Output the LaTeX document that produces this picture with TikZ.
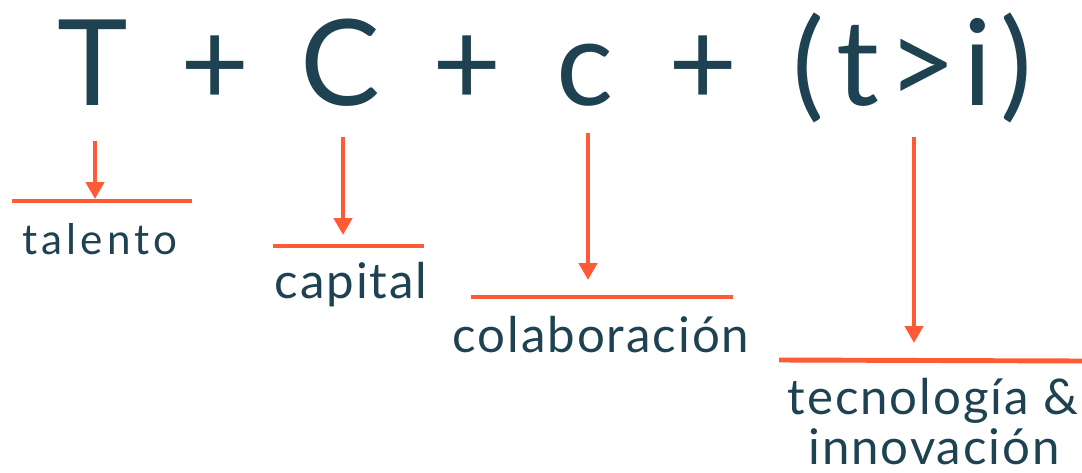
\documentclass[tikz,border=0pt]{standalone}
\usepackage{fontspec}
\setmainfont{Lato}
\usetikzlibrary{arrows.meta,calc}
\definecolor{TextClr}{HTML}{1E4251}
\definecolor{BarClr}{HTML}{FF5A36}

\begin{document}
\begin{tikzpicture}[x=0.02cm,y=-0.02cm,
  glyph/.style={inner sep=0pt,anchor=base,text=TextClr,font=\fontsize{68}{68}\selectfont},
  etiqueta/.style={inner sep=0pt,anchor=base,text=TextClr,font=\fontsize{28}{34}\selectfont\addfontfeature{LetterSpace=4}},
  raya/.style={draw=BarClr,line width=2.8pt},
  flecha/.style={draw=BarClr,line width=2.8pt,-{Triangle[width=10.2pt,length=9.6pt]}}]
\useasboundingbox (0,0) rectangle (1082,473);

% formula
\foreach \g/\px/\nm in {T/93/T,+/215/m1,C/340/C,+/467/m2,c/585/c,+/703/m3,t/858/t,>/922/gt,i/978/i}
  \node[glyph] (\nm) at (\px,106) {\g};
\node[glyph] (lp) at (808,106) {(};
\node[glyph] (rp) at (1016,106) {)};

% bars
\draw[raya] (12,201) coordinate (b1a) -- (192,201) coordinate (b1b);
\draw[raya] (273,246) coordinate (b2a) -- (424,246) coordinate (b2b);
\draw[raya] (471,297) coordinate (b3a) -- (733,297) coordinate (b3b);
\draw[raya] (779,360) coordinate (b4a) -- (1082,361) coordinate (b4b);

% arrows
\coordinate (a1) at (95,199);
\coordinate (a2) at (343,235);
\coordinate (a3) at (588,280);
\coordinate (a4) at (914,343);
\draw[flecha] (a1 |- T.south) ++(0,35) -- (a1);
\draw[flecha] (a2 |- T.south) ++(0,31) -- (a2);
\draw[flecha] (a3 |- T.south) ++(0,27) -- (a3);
\draw[flecha] (a4 |- i.south) ++(0,31) -- (a4);

% labels
\node[etiqueta,font=\fontsize{24}{30}\selectfont\addfontfeature{LetterSpace=10}] (talento) at (100,254) {talento};
\node[etiqueta] (capital) at (351,298) {capital};
\node[etiqueta] (colab) at (601,352) {colaboración};
\node[etiqueta] (tec) at (933,414) {tecnología \&};
\node[etiqueta] (innov) at (934,464) {innovación};
\end{tikzpicture}
\end{document}
